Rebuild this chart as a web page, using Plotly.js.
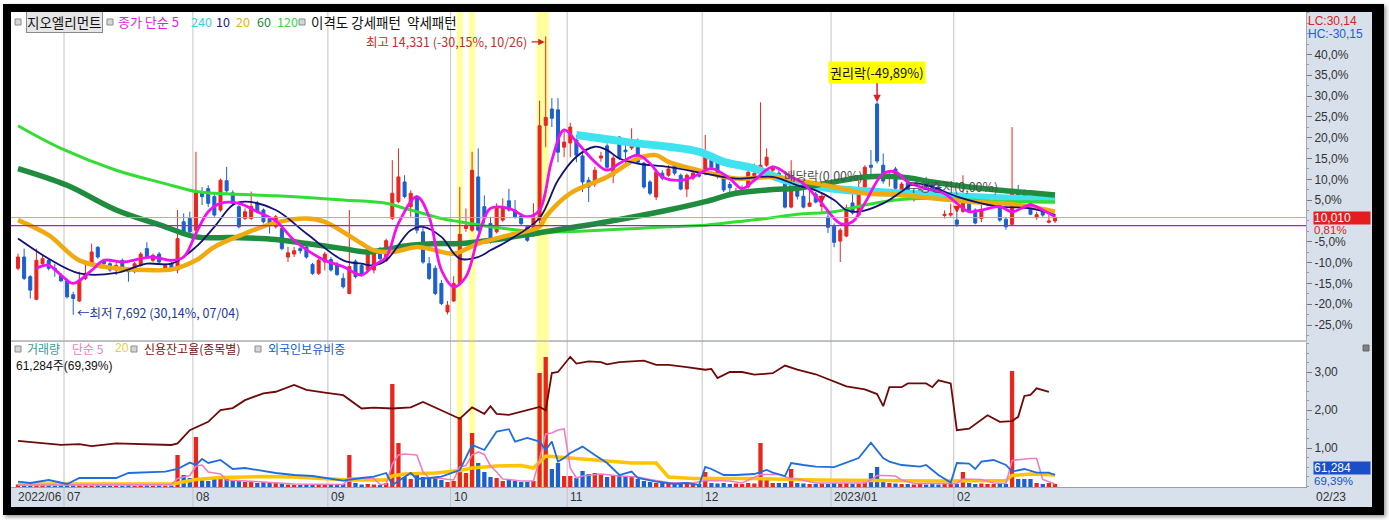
<!DOCTYPE html>
<html><head><meta charset="utf-8">
<script src="https://cdn.plot.ly/plotly-3.0.1.min.js"></script>
<style>
html,body{margin:0;padding:0;background:#fff;width:1389px;height:520px;overflow:hidden}
#frame{position:absolute;left:3px;top:4px;width:1381px;height:511px;background:#000;box-shadow:2px 2px 4px #999}
#chart{position:absolute;left:11px;top:12px;width:1361px;height:495px}
</style></head><body><div id="frame"></div><div id="chart"></div>
<script>
// ---------- data ----------
const monthDays = [
 ['2022-06',[21,22,23,24,27,28,29,30]],
 ['2022-07',[1,4,5,6,7,8,11,12,13,14,15,18,19,20,21,22,25,26,27,28,29]],
 ['2022-08',[1,2,3,4,5,8,9,10,11,12,16,17,18,19,22,23,24,25,26,29,30,31]],
 ['2022-09',[1,2,5,6,7,8,13,14,15,16,19,20,21,22,23,26,27,28,29,30]],
 ['2022-10',[4,5,6,7,11,12,13,14,17,18,19,20,21,24,25,26,27,28,31]],
 ['2022-11',[1,2,3,4,7,8,9,10,11,14,15,16,17,18,21,22,23,24,25,28,29,30]],
 ['2022-12',[1,2,5,6,7,8,9,12,13,14,15,16,19,20,21,22,23,26,27,28,29]],
 ['2023-01',[2,3,4,5,6,9,10,11,12,13,16,17,18,19,20,25,26,27,30,31]],
 ['2023-02',[1,2,3,6,7,8,9,10,13,14,15,16,17,20,21,22,23]]
];
const monthLabels = ['2022/06','07','08','09','10','11','12','2023/01','02'];

const open = [
 8800,9070,8600,8060,8910,8990,8800,8620,8500,8170,
 8020,8560,8910,9300,8990,8910,8760,8990,8800,8720,
 8870,9270,8990,9140,8800,8910,8760,9910,9990,9710,
 10630,10700,10510,10190,10890,10600,10270,9990,9990,10360,
 10190,9990,9790,9750,9070,9140,9270,9310,8890,8680,
 8950,9010,8890,8560,8200,8970,8870,8760,8760,9270,
 8990,9990,10390,10860,10270,10510,9670,8910,8800,8440,
 7760,8020,8440,9750,9710,10980,10270,9870,9670,9950,
 10410,10190,10050,9790,9590,9950,12210,12600,12580,11690,
 11790,11860,11480,10900,10810,11430,11720,11020,11930,11620,
 11670,11830,11310,10860,10500,11070,11020,11260,11020,10690,
 10950,11030,11070,11430,11430,10950,10800,10570,10640,10740,
 10980,11140,11260,11140,11070,10830,10260,10700,10520,10280,
 10570,10280,10020,9800,9450,9570,10360,10070,10740,11260,
 12720,11260,10950,11170,10670,10840,10440,10510,10860,10820,
 10740,10060,10070,9950,10160,10380,10190,9990,10310,10300,
 10430,9970,9850,10640,10620,10470,10010,10190,9900,9930];
const high = [
 9150,9270,8640,9270,9110,9030,8910,8680,8560,8240,
 8720,8990,9390,9330,9030,8950,8990,9030,8820,8950,
 9190,9420,9150,9190,8910,8950,10190,10110,10150,11580,
 10740,10780,10580,10940,11220,10660,10310,10230,10630,10410,
 10230,10030,10070,9790,9310,9310,9350,9390,8930,9030,
 9190,9070,8950,8680,10190,9010,8910,9310,9230,9310,
 9510,11380,11660,11020,10660,10550,9790,9070,8870,8520,
 8020,8610,10740,10230,11580,11660,10540,10030,10350,10470,
 10700,10430,10110,9830,10350,12800,14331,12860,12860,12100,
 12270,11980,11580,10980,11220,11580,11780,11500,11950,11860,
 12140,11900,11340,10900,11140,11140,11260,11300,11060,11060,
 11140,11100,11980,11500,11470,10980,10860,10720,10780,11180,
 11300,12760,11660,11260,11140,10870,11380,10780,10740,10810,
 10620,10620,10140,9870,9760,10320,10740,10900,11260,11620,
 12764,11540,11140,11220,10860,10900,10660,10740,10980,10900,
 10780,10180,10340,10120,11020,10500,10230,10310,10500,10440,
 10470,10030,12170,10790,10680,10510,10150,10230,10070,10100];
const low = [
 8750,8520,8080,8040,8870,8750,8600,8480,8080,7692,
 8000,8520,8870,9030,8870,8720,8640,8790,8480,8680,
 8840,9030,8950,8910,8750,8740,8680,9630,9610,9630,
 10310,10260,10030,10150,10580,10300,9750,9950,9950,10110,
 9870,9630,9750,9230,8950,9070,9150,9030,8640,8640,
 8750,8720,8620,8320,8180,8560,8600,8720,8680,8990,
 8950,9950,10350,10470,10030,9630,8910,8520,8160,7920,
 7700,8000,8400,9670,9670,9670,9870,9390,9630,9910,
 10150,9990,9830,9430,9550,9870,11690,12170,11330,11450,
 11450,11330,10620,10380,10740,11340,11140,10830,11380,11300,
 11620,11300,10700,10540,10430,10900,10980,11020,10660,10500,
 10900,10960,11020,11140,10940,10620,10580,10540,10600,10700,
 10940,11070,11220,11060,10900,10230,10230,10440,10230,10260,
 10350,10110,9640,9300,8950,9540,10080,10020,10700,10980,
 11300,10820,10750,10660,10620,10500,10390,10470,10700,10600,
 10480,9990,10030,9790,10120,10140,9850,9900,10280,10270,
 9910,9720,9830,10310,10480,10070,9960,10030,9870,9880];
const close = [
 9070,8560,8280,8990,9030,8800,8760,8500,8120,8080,
 8520,8680,9190,9070,8910,8760,8870,8820,8720,8910,
 9140,9070,9110,8950,8870,8770,9510,9670,9670,10600,
 10510,10350,10070,10900,10650,10350,9790,10150,10280,10150,
 9910,9870,10030,9270,9170,9220,9220,9070,8680,8990,
 9140,8760,8650,8360,8840,8600,8640,9230,9190,9030,
 9460,10590,10980,10510,10590,9710,8950,8560,8200,7960,
 7920,8440,9610,9830,11140,9710,10030,9430,10270,10270,
 10190,10030,9870,9470,10030,12200,12400,12380,11570,11810,
 12170,11500,10860,10740,11140,11480,11210,11430,11430,11580,
 11790,11330,10740,10590,11090,10950,11170,11070,10690,11020,
 11070,11000,11450,11210,10980,10670,10720,10640,10720,11090,
 11070,11260,11450,11220,10940,10260,10780,10520,10260,10360,
 10380,10330,9780,9420,9710,10240,10120,10690,11210,11210,
 11360,10880,11020,10710,10810,10520,10600,10680,10740,10660,
 10540,10090,10110,9850,10360,10180,9880,10170,10410,10420,
 9950,9790,10590,10360,10520,10090,10080,10070,9930,10010];
const volume = [
 50000,60000,60000,70000,40000,40000,30000,40000,60000,80000,
 70000,40000,60000,50000,30000,30000,30000,30000,40000,30000,
 50000,60000,30000,40000,30000,30000,640000,240000,180000,1000000,
 140000,120000,160000,180000,160000,120000,140000,100000,100000,80000,
 100000,80000,80000,60000,50000,40000,40000,50000,40000,50000,
 50000,40000,50000,60000,640000,80000,50000,60000,50000,40000,
 80000,2060000,880000,200000,160000,280000,200000,180000,200000,140000,
 100000,120000,1400000,280000,1080000,480000,300000,200000,180000,120000,
 140000,120000,100000,100000,120000,2280000,2600000,360000,480000,220000,
 220000,180000,320000,260000,280000,240000,200000,220000,240000,200000,
 220000,160000,120000,100000,80000,80000,70000,90000,80000,70000,
 60000,60000,300000,80000,70000,80000,60000,70000,60000,80000,
 70000,880000,180000,80000,80000,80000,360000,80000,70000,60000,
 60000,70000,60000,80000,70000,80000,60000,70000,90000,280000,
 400000,120000,80000,70000,60000,60000,50000,60000,50000,60000,
 50000,60000,70000,60000,300000,80000,60000,70000,60000,60000,
 70000,60000,2320000,160000,160000,160000,80000,60000,80000,61284];

// moving averages (candle index, value)
const ma5Idx = [3,5,7,9,12,14,17,20,22,25,27,29,31,33,36,39,42,45,48,50,53,56,58,60,62,65,67,69,71,73,75,77,80,83,85,87,89,91,94,96,98,101,103,105,108,110,113,116,118,120,123,126,128,131,134,136,138,141,143,145,148,151,153,155,157,160,162,165,167,169];
const ma5Val = [8800,8870,8640,8440,8750,8990,8950,9030,9070,8990,9070,9630,10150,10350,10350,10150,9930,9470,9150,8990,8840,8640,8870,9070,9870,10510,10030,8760,8360,8600,9550,10230,10230,10030,10190,11380,12100,11820,11340,11140,11300,11500,11300,10980,10900,10980,11180,10940,10700,10900,11220,10980,10820,10350,9870,9910,10350,11060,11100,10860,10700,10580,10350,10150,10190,10270,10150,10310,10190,10030];
const ma10Idx = [0,5,10,16,21,25,29,32,35,37,42,47,53,56,58,60,64,66,69,72,75,77,80,85,88,91,94,96,98,101,106,112,117,123,127,130,133,135,137,141,144,146,149,153,157,160,165,169];
const ma10Val = [9510,9030,8680,8690,8910,8910,9310,9790,10310,10390,10190,9630,8990,8910,8870,8990,9710,9790,9550,9030,9070,9230,9470,10000,10900,11460,11700,11620,11420,11300,11220,11060,10940,10980,10780,10660,10430,10190,10150,10350,10630,10820,10740,10510,10350,10270,10230,10070];
const ma20Idx = [0,5,10,16,21,25,29,32,37,42,47,50,56,58,61,65,68,71,75,80,85,86,90,96,101,104,106,112,117,123,127,133,138,144,149,155,160,165,169];
const ma20Val = [9950,9590,8990,8800,8760,8770,8990,9310,9630,9890,9990,9910,9390,9230,9190,9310,9230,9150,9390,9590,9790,10030,10590,10980,11420,11500,11340,11100,10940,10980,10900,10740,10590,10550,10470,10390,10350,10270,10150];
const ma60Idx = [0,8,16,24,29,35,42,47,53,57,64,69,72,77,85,96,106,112,117,123,127,133,138,144,149,155,160,165,169];
const ma60Val = [11180,10780,10190,9790,9550,9535,9490,9390,9270,9190,9350,9390,9390,9470,9650,9910,10190,10390,10590,10680,10710,10860,10980,10980,10860,10740,10660,10600,10550];
const ma120Idx = [0,7,16,24,29,32,42,53,60,63,65,69,72,77,85,95,106,112,117,122,127,133,138,143,149,155,160,165,169];
const ma120Val = [12200,11660,11140,10820,10630,10590,10530,10430,10350,10230,10150,9990,9910,9790,9670,9710,9790,9830,9910,9990,10090,10150,10310,10430,10470,10430,10390,10390,10390];
const ma240Idx = [91,96,101,106,111,115,120,124,127,133,140,150,160,169];
const ma240Val = [11980,11880,11780,11700,11580,11340,11180,10950,10830,10700,10620,10540,10470,10430];

const volMa5Idx = [0,12,25,26,28,29,30,31,33,34,36,40,45,53,54,56,58,59,60,61,62,63,65,66,67,68,70,71,72,73,74,75,76,77,78,79,80,82,84,85,86,87,88,89,90,91,92,95,98,101,103,106,110,112,116,118,121,124,126,127,130,138,139,140,141,143,144,146,153,154,157,159,161,162,165,166,167,169];
const volMa5Val = [40000,40000,50000,170000,230000,420000,440000,300000,260000,140000,130000,100000,60000,50000,180000,170000,170000,50000,60000,460000,640000,660000,640000,300000,180000,180000,160000,140000,400000,430000,640000,700000,650000,420000,300000,160000,150000,120000,120000,560000,1060000,1080000,1140000,1160000,380000,180000,220000,260000,220000,200000,150000,90000,80000,130000,120000,80000,250000,250000,160000,160000,80000,80000,140000,230000,230000,220000,140000,70000,70000,160000,150000,80000,70000,530000,570000,570000,150000,60000];
const volMa20Idx = [0,25,26,29,33,40,45,50,54,60,61,63,68,72,74,78,82,84,85,86,88,92,100,104,106,110,120,130,150,161,162,165,169];
const volMa20Val = [60000,60000,80000,150000,190000,210000,200000,160000,140000,140000,220000,260000,280000,330000,380000,420000,430000,380000,500000,620000,600000,560000,480000,480000,200000,170000,170000,140000,120000,130000,230000,260000,240000];

const creditIdx = [0,5,7,10,12,16,21,25,26,28,31,33,35,37,40,42,45,47,50,53,56,58,61,64,66,69,72,74,76,77,78,80,83,85,86,87,88,90,91,93,95,96,98,101,102,104,106,109,112,113,114,116,118,120,123,125,127,130,133,135,138,140,141,142,144,145,148,149,150,152,153,155,158,160,162,163,164,165,166,168];
const creditVal = [1.19,1.12,1.08,1.10,1.05,1.12,1.10,1.08,1.12,1.47,1.69,2.00,2.05,2.26,2.44,2.48,2.66,2.53,2.46,2.39,2.04,2.06,2.04,2.07,2.21,1.99,1.77,2.07,1.90,2.10,1.90,1.87,1.99,2.08,1.99,2.97,3.00,3.40,3.22,3.28,3.26,3.20,3.26,3.28,3.30,3.19,3.19,3.13,3.06,3.08,2.84,3.00,3.00,2.93,2.97,3.17,3.06,2.94,2.75,2.62,2.54,2.42,2.10,2.60,2.60,2.70,2.70,2.60,2.78,2.70,1.47,1.51,1.86,1.69,1.71,1.82,2.37,2.40,2.57,2.48];
const foreignIdx = [0,2,5,8,10,13,16,18,21,24,26,28,29,30,31,33,35,37,42,45,48,50,53,56,58,60,61,64,65,67,69,72,74,76,78,80,81,83,85,86,87,88,89,90,92,94,96,98,100,101,104,107,109,111,112,113,115,117,120,122,123,125,126,128,130,133,135,137,139,141,142,144,147,148,150,152,153,155,156,157,159,161,162,164,166,168,169];
const foreignVal = [0.27,0.20,0.35,0.15,0.45,0.45,0.45,0.70,0.75,0.77,0.90,1.22,1.10,1.40,1.20,1.35,0.90,0.95,0.70,0.60,0.55,0.45,0.32,0.45,0.52,0.70,0.10,0.70,0.40,0.45,0.52,0.85,2.10,1.85,2.77,2.89,2.27,2.45,2.27,1.85,2.27,1.27,1.45,1.70,2.02,1.60,1.20,0.60,0.77,0.45,0.27,0.15,0.20,0.10,1.00,0.90,0.60,0.60,0.65,0.85,0.72,0.55,1.20,1.10,1.02,0.99,1.20,1.45,2.22,1.45,1.27,1.10,1.02,1.10,0.60,0.22,1.20,1.17,0.90,1.27,1.35,1.10,0.77,0.90,0.72,0.72,0.60];

const patternDays = ['2022-10-05','2022-10-07','2022-10-25','2022-10-26'];
const yPcts = [40,35,30,25,20,15,10,5,-5,-10,-15,-20,-25];

// ---------- build ----------
const dates = [];
monthDays.forEach(([m, ds]) => ds.forEach(d => dates.push(m + '-' + String(d).padStart(2,'0'))));
const monthStart = monthDays.map(([m, ds]) => dates.indexOf(m + '-' + String(ds[0]).padStart(2,'0')));
const at = arr => arr.map(i => dates[i]);
const basePrice = close[close.length - 2];
const lastClose = close[close.length - 1];

const UP = '#e8261e', DN = '#1d5fcc';
const KR = 'Noto Sans CJK KR, Liberation Sans, sans-serif';
const NUM = 'Liberation Sans, Noto Sans CJK KR, sans-serif';
const PX = p => (p - 11) / 1295;
const PY = p => (487 - p) / 475;

const traces = [];
// bottom panel
traces.push({type:'bar', x:dates, y:volume, xaxis:'x', yaxis:'y2',
  marker:{color: close.map((c,i)=> c >= open[i] ? UP : DN), line:{width:0}}, hoverinfo:'skip'});
traces.push({type:'scatter', mode:'lines', x:at(volMa20Idx), y:volMa20Val, xaxis:'x', yaxis:'y2',
  line:{color:'#ffc400', width:3.5}, hoverinfo:'skip'});
traces.push({type:'scatter', mode:'lines', x:at(volMa5Idx), y:volMa5Val, xaxis:'x', yaxis:'y2',
  line:{color:'#f27cc4', width:1.6}, hoverinfo:'skip'});
traces.push({type:'scatter', mode:'lines', x:at(foreignIdx), y:foreignVal, xaxis:'x', yaxis:'y4',
  line:{color:'#1e6ee0', width:1.8}, hoverinfo:'skip'});
traces.push({type:'scatter', mode:'lines', x:at(creditIdx), y:creditVal, xaxis:'x', yaxis:'y3',
  line:{color:'#6e0a0a', width:1.8}, hoverinfo:'skip'});
// main panel moving averages
const maDefs = [
  [ma240Idx, ma240Val, '#3fe3f0', 8],
  [ma120Idx, ma120Val, '#33dd33', 3],
  [ma60Idx, ma60Val, '#1f8c3e', 5.5],
  [ma20Idx, ma20Val, '#f0aa10', 4.5],
  [ma10Idx, ma10Val, '#12127a', 1.8],
  [ma5Idx, ma5Val, '#f010f0', 2.8]
];
maDefs.forEach(([ix, v, c, w]) => traces.push({type:'scatter', mode:'lines', x:at(ix), y:v,
  xaxis:'x', yaxis:'y', line:{color:c, width:w, shape:'spline', smoothing:1}, hoverinfo:'skip'}));
traces.push({type:'candlestick', x:dates, open, high, low, close, xaxis:'x', yaxis:'y',
  increasing:{line:{color:UP, width:1}, fillcolor:UP},
  decreasing:{line:{color:DN, width:1}, fillcolor:DN},
  whiskerwidth:0, hoverinfo:'skip'});

// shapes
const shapes = [];
patternDays.forEach(d => { const i = dates.indexOf(d);
  shapes.push({type:'rect', layer:'below', xref:'x', yref:'paper', x0:i-0.5, x1:i+0.5, y0:0, y1:1,
    fillcolor:'#ffff9c', line:{width:0}}); });
monthStart.slice(1).forEach(i => shapes.push({type:'line', layer:'below', xref:'x', yref:'paper',
  x0:i-0.5, x1:i-0.5, y0:PY(507), y1:1, line:{color:'#c4c4c4', width:1}}));
shapes.push({type:'line', xref:'paper', yref:'paper', x0:0, x1:1, y0:PY(341), y1:PY(341), line:{color:'#9a9a9a', width:1}});
shapes.push({type:'line', xref:'paper', yref:'y', x0:0, x1:1, y0:lastClose, y1:lastClose, line:{color:'#f0a040', width:1}});
shapes.push({type:'line', xref:'paper', yref:'y', x0:0, x1:1, y0:9820, y1:9820, line:{color:'#9a28c8', width:1.3}});
const icon = (px, py) => shapes.push({type:'rect', xref:'paper', yref:'paper', x0:PX(px-3), x1:PX(px+3), y0:PY(py+3), y1:PY(py-3),
  fillcolor:'#d6d6d6', line:{color:'#8c8c8c', width:1}});
[18,110,302].forEach(x => icon(x, 22));
[18,134,258].forEach(x => icon(x, 349));
shapes.push({type:'rect', xref:'paper', yref:'paper', x0:PX(1363), x1:PX(1369), y0:PY(351), y1:PY(345), fillcolor:'#808080', line:{color:'#666', width:1}});

// annotations
const ann = [];
const txt = (text, px, py, color, size, extra) => ann.push(Object.assign({xref:'paper', yref:'paper', x:PX(px), y:PY(py),
  xanchor:'left', yanchor:'middle', text, showarrow:false, borderpad:0, font:{family:KR, size:size || 13, color}}, extra || {}));
txt('지오엘리먼트', 26, 22, '#111', 13.5, {bgcolor:'#e6e6e6', bordercolor:'#8a8a8a', borderwidth:1, borderpad:0});
txt('종가 단순 5', 117, 22, '#e01ee0', 13);
txt('240', 190, 22, '#2fd4e6', 12.5);
txt('10', 215, 22, '#1a1a80', 12.5);
txt('20', 235, 22, '#e8b010', 12.5);
txt('60', 256, 22, '#1e8a3c', 12.5);
txt('120', 276, 22, '#38d838', 12.5);
txt('이격도 강세패턴  약세패턴', 310, 22, '#111', 13.5);
txt('거래량', 26, 348, '#3a9a9a', 12);
txt('단순 5', 71, 348, '#f07ac0', 12);
txt('20', 114, 348, '#e0d040', 12, {font:{family:NUM, size:12, color:'#e0d040'}});
txt('신용잔고율(종목별)', 143, 348, '#7a1010', 12);
txt('외국인보유비중', 267, 348, '#2060c8', 12);
txt('61,284주(69,39%)', 15, 366, '#111', 11.5, {font:{family:NUM, size:12, color:'#111'}});
txt('LC:30,14', 1307, 21, '#e02020', 12, {font:{family:NUM, size:12, color:'#e02020'}});
txt('HC:-30,15', 1307, 34, '#2060d0', 12, {font:{family:NUM, size:12, color:'#2060d0'}});
ann.push({xref:'paper', yref:'y', x:PX(1313), y:lastClose, xanchor:'left', yanchor:'middle', showarrow:false,
  text:'10,010', bgcolor:'#e41e1e', width:56, height:12, align:'left', borderpad:0,
  font:{family:NUM, size:12, color:'#fff'}});
txt('0,81%', 1313, 230, '#e02020', 11.5, {font:{family:NUM, size:11.5, color:'#e02020'}});
ann.push({xref:'paper', yref:'paper', x:PX(1313), y:PY(468), xanchor:'left', yanchor:'middle', showarrow:false,
  text:'61,284', bgcolor:'#1a4fc8', width:56, height:12, align:'left', borderpad:0,
  font:{family:NUM, size:12, color:'#fff'}});
txt('69,39%', 1313, 481, '#2050c0', 11.5, {font:{family:NUM, size:11.5, color:'#2050c0'}});
txt('02/23', 1315, 497, '#333', 12, {font:{family:NUM, size:12, color:'#333'}});
monthStart.forEach((i, k) => ann.push({xref:'x', yref:'paper', x:i-0.5, y:PY(497), xanchor:'left', yanchor:'middle',
  xshift:1, showarrow:false, text:monthLabels[k], font:{family:NUM, size:12, color:'#333'}}));

const hiIdx = high.indexOf(Math.max(...high));
const loIdx = low.indexOf(Math.min(...low));
ann.push({xref:'x', yref:'y', x:dates[hiIdx], y:14200, xanchor:'right', yanchor:'middle', xshift:-17, showarrow:false,
  text:'최고 14,331 (-30,15%, 10/26)', font:{family:KR, size:12.5, color:'#c0302a'}});
ann.push({xref:'x', yref:'y', x:dates[hiIdx], y:14200, ax:-17, ay:0, showarrow:true, arrowhead:2, arrowsize:1,
  arrowwidth:1.3, arrowcolor:'#d02020', text:' ', standoff:1});
ann.push({xref:'x', yref:'y', x:dates[loIdx], y:low[loIdx], xanchor:'left', yanchor:'middle', xshift:2, yshift:2, showarrow:false,
  text:'←최저 7,692 (30,14%, 07/04)', font:{family:KR, size:12.5, color:'#1a3aa0'}});
ann.push({xref:'x', yref:'y', x:dates[140], y:high[140], ax:0, ay:-30, showarrow:true, arrowhead:2, arrowsize:1,
  arrowwidth:1.5, arrowcolor:'#e02020', text:'권리락(-49,89%)', bgcolor:'#ffff00', borderpad:1,
  font:{family:KR, size:13, color:'#111'}});
txt('배당락(0,00%)', 783, 175, '#505050', 12.5);
txt('무상증자(0,00%)', 907, 186, '#505050', 12.5);
[[131,10355],[153,10112]].forEach(([i,v]) => ann.push({xref:'x', yref:'y', x:dates[i], y:v, ax:0, ay:-13,
  showarrow:true, arrowhead:2, arrowsize:1, arrowwidth:1.5, arrowcolor:'#e02020', text:' '}));

const layout = {
  width:1361, height:495, margin:{l:0, r:66, t:0, b:20, pad:0},
  paper_bgcolor:'#d8e1eb', plot_bgcolor:'#ffffff', showlegend:false, bargap:0.3,
  font:{family:NUM, size:12, color:'#333'},
  xaxis:{type:'category', categoryorder:'array', categoryarray:dates, range:[-1.14, 209.9],
    showticklabels:false, ticks:'', showgrid:false, zeroline:false, anchor:'y2',
    rangeslider:{visible:false}, showline:true, linecolor:'#a0a0a0', fixedrange:true},
  yaxis:{domain:[0.3084, 1], range:[7078, 14914], side:'right', anchor:'x',
    tickmode:'array', tickvals:yPcts.map(p => basePrice*(1+p/100)),
    ticktext:yPcts.map(p => p.toFixed(1).replace('.', ',') + '%'),
    ticks:'outside', ticklen:5, tickcolor:'#777', showgrid:false, zeroline:false,
    showline:true, linecolor:'#a8a8a8', tickfont:{family:NUM, size:12, color:'#333'},
    minor:{tickmode:'linear', tick0:basePrice, dtick:basePrice*0.025, ticks:'outside', ticklen:2, tickcolor:'#999', showgrid:false}},
  yaxis2:{domain:[0, 0.3053], range:[0, 2900000], side:'right', anchor:'x', showticklabels:false, ticks:'',
    showgrid:false, zeroline:false, showline:true, linecolor:'#a8a8a8'},
  yaxis3:{overlaying:'y2', anchor:'x', side:'right', range:[-0.026, 3.79], tickmode:'array', tickvals:[1,2,3],
    ticktext:['1,00','2,00','3,00'], ticks:'outside', ticklen:5, tickcolor:'#777', showgrid:false, zeroline:false,
    tickfont:{family:NUM, size:12, color:'#333'},
    minor:{tickmode:'linear', tick0:0, dtick:0.25, ticks:'outside', ticklen:2, tickcolor:'#999', showgrid:false}},
  yaxis4:{overlaying:'y2', anchor:'x', range:[0, 7.25], visible:false},
  shapes, annotations:ann
};
Plotly.newPlot('chart', traces, layout, {staticPlot:true, displayModeBar:false});
</script></body></html>
